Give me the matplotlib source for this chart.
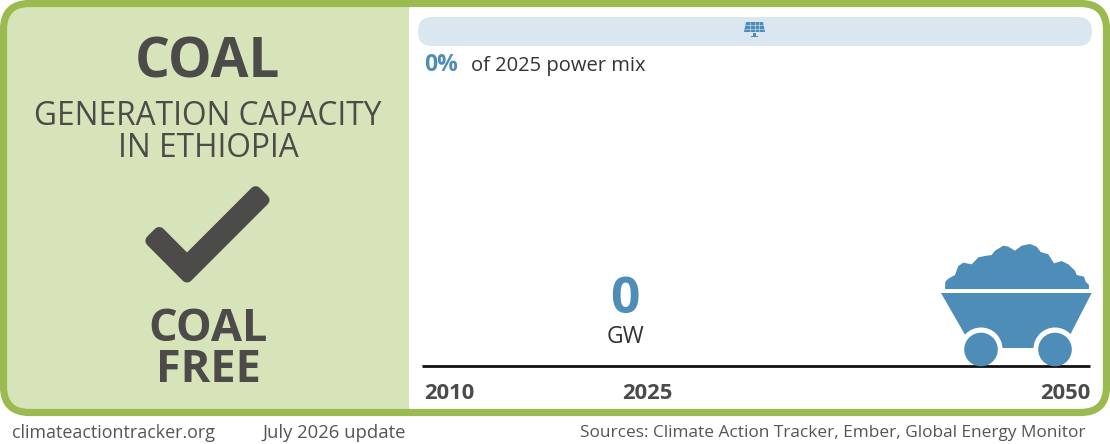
import matplotlib
matplotlib.use("Agg")
import matplotlib.pyplot as plt
from matplotlib.patches import FancyBboxPatch, Polygon, Circle, Rectangle

plt.rcParams['font.family'] = ['Open Sans', 'DejaVu Sans']

# values
years = [2010, 2025, 2050]
capacity_2025 = 0
share_2025 = 0
unit = "GW"

GREEN = "#9bbb50"
PALE_GREEN = "#d7e4b9"
DARK = "#4d4a4a"
BLUE = "#4e8db8"
PALE_BLUE = "#dbe7f0"
GREY = "#555555"

fig = plt.figure(figsize=(11.1, 4.44), dpi=100)
ax = fig.add_axes([0, 0, 1, 1])
ax.set_xlim(0, 1110)
ax.set_ylim(444, 0)
ax.axis("off")

# frame and left panel
frame = FancyBboxPatch((3.5, 3.5), 1103, 409, boxstyle="round,pad=0,rounding_size=26",
                       fc="white", ec="none", zorder=1)
ax.add_patch(frame)
panel = Rectangle((0, 0), 409, 420, fc=PALE_GREEN, ec="none", zorder=2)
ax.add_patch(panel)
panel.set_clip_path(frame)
ax.add_patch(FancyBboxPatch((3.5, 3.5), 1103, 409, boxstyle="round,pad=0,rounding_size=26",
                            fc="none", ec=GREEN, lw=5.2, zorder=3))

# left panel text
ax.text(208, 63, "COAL", fontsize=39.5, fontweight="bold", color=DARK, ha="center", va="center", zorder=4)
ax.text(208, 132, "GENERATION CAPACITY\nIN ETHIOPIA", fontsize=22.8, color=DARK, ha="center", va="center",
        linespacing=0.96, multialignment="center", zorder=4)
ax.text(208, 350, "COAL\nFREE", fontsize=32.5, fontweight="bold", color=DARK, ha="center", va="center",
        linespacing=0.88, multialignment="center", zorder=4)

# check mark, stroked so the corners come out round
check = [(151.2, 240.8), (159.2, 232.8), (187, 260.7), (255.7, 192), (263.7, 200), (187, 276.7)]
ax.add_patch(Polygon(check, closed=True, fc=DARK, ec=DARK, lw=8.4, joinstyle="round", zorder=4))

# top strip with solar icon
ax.add_patch(FancyBboxPatch((418, 17), 674, 29, boxstyle="round,pad=0,rounding_size=14",
                            fc=PALE_BLUE, ec="none", zorder=2))
ax.add_patch(Polygon([(746, 22), (763, 22), (765, 32), (744, 32)], closed=True, fc=BLUE, ec="none", zorder=3))
for gx in [750, 754.5, 759]:
    ax.plot([gx, gx], [22, 32], color=PALE_BLUE, lw=0.4, zorder=4)
for gy in [25.5, 29]:
    ax.plot([745, 764], [gy, gy], color=PALE_BLUE, lw=0.4, zorder=4)
ax.add_patch(Rectangle((753, 33), 3, 3, fc=BLUE, ec="none", zorder=3))
ax.add_patch(Rectangle((751, 36), 7, 1.5, fc=BLUE, ec="none", zorder=3))

# share of power mix
ax.text(424, 65, f"{share_2025}%", fontsize=16.5, fontweight="bold", color=BLUE, va="center", zorder=4)
ax.text(471, 66, f"of {years[1]} power mix", fontsize=14.5, color="#333333", va="center", zorder=4)

# capacity value
ax.text(625, 300, str(capacity_2025), fontsize=37, fontweight="bold", color=BLUE, ha="center", va="center", zorder=4)
ax.text(625, 337, unit, fontsize=16.5, color="#333333", ha="center", va="center", zorder=4)

# baseline and years
ax.text(424, 393, str(years[0]), fontsize=15.8, fontweight="bold", color=DARK, ha="left", va="center", zorder=4)
ax.text(647, 393, str(years[1]), fontsize=15.8, fontweight="bold", color=DARK, ha="center", va="center", zorder=4)
ax.text(1090, 393, str(years[2]), fontsize=15.8, fontweight="bold", color=DARK, ha="right", va="center", zorder=4)

# coal cart
def cart_xy(z):
    return [(920 + a / 3, 230 + b / 3) for a, b in z]

pile = [(75, 177), (76, 155), (85, 146), (105, 135), (115, 108), (130, 98), (155, 103), (175, 82),
        (195, 78), (215, 75), (225, 62), (250, 47), (265, 50), (285, 62), (305, 47), (330, 42),
        (350, 50), (362, 66), (385, 73), (402, 100), (425, 93), (445, 103), (465, 122), (470, 135),
        (492, 140), (497, 155), (507, 165), (507, 177)]
body = [(63, 189), (515, 189), (430, 354), (158, 354)]
ax.add_patch(Polygon(cart_xy(pile), closed=True, fc=BLUE, ec="none", zorder=3))
ax.add_patch(Polygon(cart_xy(body), closed=True, fc=BLUE, ec="none", zorder=3))
for cx in [981, 1055]:
    ax.add_patch(Circle((cx, 349), 21.5, fc="white", ec="none", zorder=4))
ax.plot([422, 1090], [366, 366], color="#111111", lw=2, zorder=5, solid_capstyle="butt")
for cx in [981, 1055]:
    ax.add_patch(Circle((cx, 349.5), 16.8, fc=BLUE, ec="none", zorder=6))

# footer
ax.text(12, 433, "climateactiontracker.org", fontsize=12.85, color=GREY, va="center")
ax.text(262, 433, "July 2026 update", fontsize=13.3, color=GREY, va="center")
ax.text(1086, 433, "Sources: Climate Action Tracker, Ember, Global Energy Monitor", fontsize=12.4,
        color=GREY, ha="right", va="center")

fig.savefig("out.png", dpi=100)
